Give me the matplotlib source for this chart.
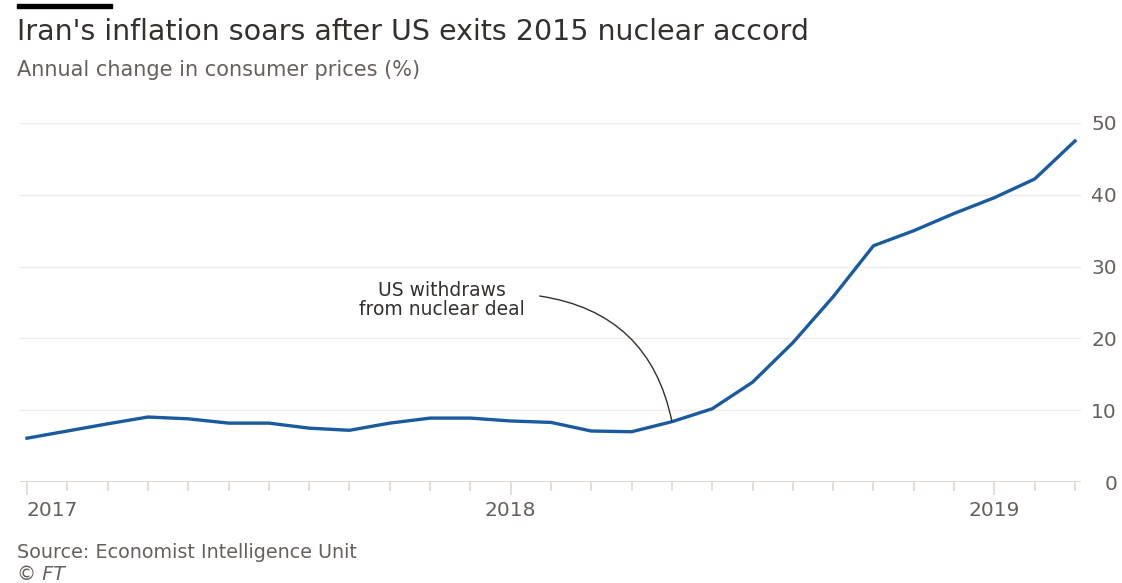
import matplotlib.pyplot as plt
from matplotlib.patches import Rectangle
import numpy as np

plt.rcParams['font.family'] = ['DejaVu Sans']

# meses de jan/2017 a mar/2019
meses = ["Jan 2017", "Feb 2017", "Mar 2017", "Apr 2017", "May 2017", "Jun 2017",
         "Jul 2017", "Aug 2017", "Sep 2017", "Oct 2017", "Nov 2017", "Dec 2017",
         "Jan 2018", "Feb 2018", "Mar 2018", "Apr 2018", "May 2018", "Jun 2018",
         "Jul 2018", "Aug 2018", "Sep 2018", "Oct 2018", "Nov 2018", "Dec 2018",
         "Jan 2019", "Feb 2019", "Mar 2019"]
inflacao = [6.1, 7.1, 8.1, 9.05, 8.8, 8.2, 8.2, 7.5, 7.2, 8.2, 8.9, 8.9,
            8.5, 8.3, 7.1, 7.0, 8.4, 10.2, 13.9, 19.4, 25.8, 32.9, 35.0, 37.4,
            39.6, 42.2, 47.5]
anos = ["2017", "2018", "2019"]
y_ticks = [0, 10, 20, 30, 40, 50]

evento = "May 2018"
texto_evento = "US withdraws\nfrom nuclear deal"

x = np.arange(len(meses))
px = 72 / 100  # pontos por pixel

fig = plt.figure(figsize=(11.22, 5.83), dpi=100)
ax = fig.add_axes([20 / 1122, 101 / 583, 1061 / 1122, 359 / 583])

ax.plot(x, inflacao, color='#1a5a9e', linewidth=2.4, solid_joinstyle='round', zorder=3)

ax.set_xlim(-7 / 40.4, len(meses) - 1 + 6 / 40.4)
ax.set_ylim(0, 50)

# grade e eixos
for s in ax.spines.values():
    s.set_visible(False)
ax.axhline(0, color='#d9d2cc', linewidth=1.2, zorder=2)
ax.set_yticks(y_ticks)
ax.yaxis.grid(True, color='#f0ebe7', linewidth=1.0)
ax.set_axisbelow(True)
ax.yaxis.tick_right()
ax.tick_params(axis='y', length=0, pad=36 * px, labelsize=14.5, labelcolor='#66605c')
for lbl in ax.get_yticklabels():
    lbl.set_horizontalalignment('right')

idx_anos = [meses.index("Jan " + a) for a in anos]
ax.set_xticks(idx_anos)
ax.set_xticklabels(anos)
ax.set_xticks(x, minor=True)
ax.tick_params(axis='x', which='major', length=13 * px, width=1.2, color='#e0d8d2',
               pad=6 * px, labelsize=14.5, labelcolor='#66605c')
ax.tick_params(axis='x', which='minor', length=9 * px, width=1.2, color='#e0d8d2')
ax.get_xticklabels()[0].set_horizontalalignment('left')

# anotação
i_ev = meses.index(evento)
ax.text(10.3, 25.4, texto_evento, ha='center', va='center', fontsize=13.5,
        color='#33302e', linespacing=1.0)
ax.annotate('', xy=(i_ev, inflacao[i_ev]), xytext=(12.72, 25.9),
            arrowprops=dict(arrowstyle='-', color='#33302e', linewidth=1.0,
                            connectionstyle='arc3,rad=-0.35', shrinkA=0, shrinkB=0))

# títulos e rodapé
fig.add_artist(Rectangle((17 / 1122, 1 - 8 / 583), 95 / 1122, 4.5 / 583,
                         transform=fig.transFigure, color='black'))
fig.text(17 / 1122, 1 - 32 / 583, "Iran's inflation soars after US exits 2015 nuclear accord",
         fontsize=20.5, color='#33302e', va='center')
fig.text(17 / 1122, 1 - 70 / 583, "Annual change in consumer prices (%)",
         fontsize=15, color='#66605c', va='center')
fig.text(17 / 1122, 1 - 553 / 583, "Source: Economist Intelligence Unit",
         fontsize=13.8, color='#66605c', va='center')
fig.text(17 / 1122, 1 - 574 / 583, "© FT", fontsize=13.8, color='#66605c',
         va='center', style='italic')

fig.savefig('out.png', dpi=100, facecolor='white')
